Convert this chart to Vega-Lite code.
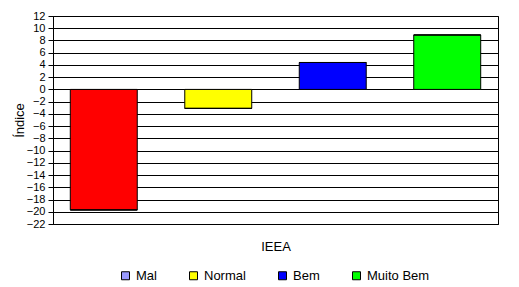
{
  "$schema": "https://vega.github.io/schema/vega-lite/v6.json",
  "width": 445,
  "height": 208,
  "autosize": {"type": "none"},
  "padding": {"left": 53, "top": 16, "right": 21, "bottom": 63},
  "background": "white",
  "config": {
    "font": "Liberation Sans",
    "view": {"stroke": "black", "strokeWidth": 1},
    "axis": {"labelColor": "black", "titleColor": "black", "titleFontWeight": "normal", "domainColor": "black", "tickColor": "black", "gridColor": "black", "gridOpacity": 1, "labelOverlap": false}
  },
  "data": {
    "values": [
      {"serie": "Mal", "valor": -19.7},
      {"serie": "Normal", "valor": -3.1},
      {"serie": "Bem", "valor": 4.4},
      {"serie": "Muito Bem", "valor": 8.9}
    ]
  },
  "encoding": {
    "x": {
      "field": "serie",
      "type": "nominal",
      "sort": null,
      "scale": {"paddingInner": 0.415, "paddingOuter": 0.151},
      "axis": {"labels": false, "ticks": false, "domain": true, "title": "IEEA", "titleFontSize": 13, "titleBaseline": "alphabetic", "titleY": 26}
    },
    "y": {
      "field": "valor",
      "type": "quantitative",
      "scale": {"domain": [-22, 12], "nice": false, "zero": false},
      "axis": {
        "values": [12, 10, 8, 6, 4, 2, 0, -2, -4, -6, -8, -10, -12, -14, -16, -18, -20, -22],
        "title": "Índice",
        "titleFontSize": 13,
        "titleX": -30,
        "titleBaseline": "alphabetic",
        "labelFontSize": 11,
        "labelPadding": 3,
        "labelOverlap": false,
        "labelBound": false,
        "labelFlush": false,
        "tickSize": 5,
        "grid": true
      }
    }
  },
  "layer": [
    {
      "mark": {"type": "bar", "stroke": "black", "strokeWidth": 1},
      "encoding": {
        "color": {
          "field": "serie",
          "type": "nominal",
          "scale": {"domain": ["Mal", "Normal", "Bem", "Muito Bem"], "range": ["#FF0000", "#FFFF00", "#0000FF", "#00FF00"]},
          "legend": null
        }
      }
    },
    {
      "mark": {"type": "bar", "stroke": "black", "strokeWidth": 1},
      "encoding": {
        "y2": {"field": "valor"},
        "color": {
          "field": "serie",
          "type": "nominal",
          "scale": {"domain": ["Mal", "Normal", "Bem", "Muito Bem"], "range": ["#9999FF", "#FFFF00", "#0000FF", "#00FF00"]},
          "legend": {
            "title": null,
            "orient": "none",
            "direction": "horizontal",
            "legendX": 66,
            "legendY": 253,
            "symbolType": "square",
            "symbolSize": 64,
            "symbolStrokeColor": "black",
            "symbolStrokeWidth": 1,
            "symbolOpacity": 1,
            "labelFontSize": 13,
            "labelColor": "black",
            "labelOffset": 4,
            "columnPadding": 30
          }
        }
      }
    }
  ],
  "resolve": {"scale": {"color": "independent"}, "legend": {"color": "independent"}}
}
